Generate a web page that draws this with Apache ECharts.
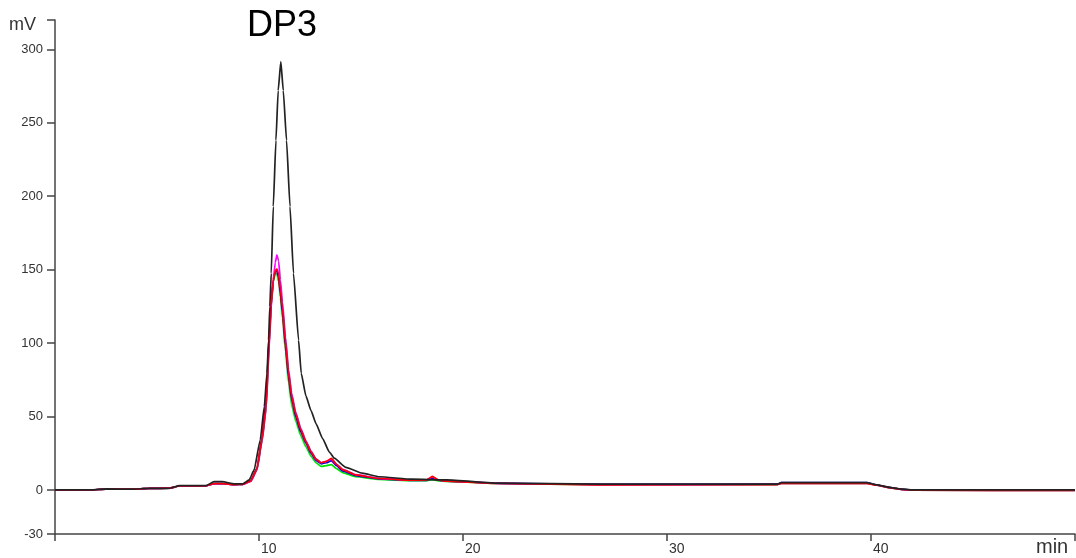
<!DOCTYPE html>
<html>
<head>
<meta charset="utf-8">
<script src="https://cdn.jsdelivr.net/npm/echarts@6/dist/echarts.min.js"></script>
<style>
html,body{margin:0;padding:0;background:#fff;}
#chart{width:1076px;height:558px;}
</style>
</head>
<body>
<div id="chart"></div>
<script>
// ---- data ----
const chartTitle = 'DP3';
const yUnit = 'mV';
const xUnit = 'min';
const yTickValues = [-30, 0, 50, 100, 150, 200, 250, 300, 320];
const yLabelValues = [-30, 0, 50, 100, 150, 200, 250, 300];
const xTickValues = [0, 10, 20, 30, 40, 50];
const xLabelValues = [10, 20, 30, 40];

// black trace
const timeBlack = [0, 1.75, 2.5, 3.8, 4.6, 5.6, 6.1, 7.4, 7.8, 8.2, 8.8, 9.2, 9.52, 9.76, 10.06, 10.26, 10.39, 10.47, 10.53, 10.6, 10.7, 10.83, 10.94, 11.07, 11.19, 11.35, 11.52, 11.69, 11.94, 12.07, 12.3, 12.55, 12.8, 13.12, 13.44, 13.69, 14.26, 15.06, 15.9, 17.5, 19.2, 21.8, 26.7, 35.4, 35.6, 39.8, 40.3, 40.9, 41.4, 42.05, 50];
const valuesBlack = [0, 0, 0.7, 0.5, 1.1, 1.1, 2.9, 2.9, 5.7, 5.7, 4.1, 4.1, 6.8, 13.6, 34, 56.7, 79.4, 102, 124.8, 147.5, 193, 238, 272, 291.6, 272, 238, 193, 147.5, 102, 79.4, 64, 54, 45, 35, 26, 21.6, 15.4, 11.4, 9, 7.3, 6.8, 4.6, 3.9, 3.9, 5, 5, 3.4, 1.8, 0.7, 0, 0];

// coloured traces share one time grid
const timeColor = [0, 1.75, 2.5, 3.8, 4.6, 5.6, 6.1, 7.4, 7.8, 8.2, 8.8, 9.2, 9.6, 9.9, 10.15, 10.35, 10.5, 10.6, 10.7, 10.8, 10.88, 10.96, 11.05, 11.15, 11.3, 11.45, 11.6, 11.8, 12.05, 12.3, 12.55, 12.8, 13.05, 13.3, 13.55, 13.8, 14.1, 14.75, 15.9, 17.5, 18.2, 18.5, 18.8, 19.2, 21.8, 26.7, 35.4, 35.6, 39.8, 40.3, 40.9, 41.4, 42.05, 50];
const valuesGreen = [0, 0, 0.6, 0.5, 1.0, 1.2, 2.7, 2.8, 4.2, 4.3, 3.6, 3.8, 6.5, 15, 36, 62, 106, 128, 142, 148, 147, 142, 131, 117, 94, 73, 58, 47, 37, 29.5, 23, 18.5, 16, 16.5, 17.2, 14.5, 11.8, 9, 7.2, 6.3, 6.3, 7.0, 6.2, 5.8, 4.4, 3.6, 3.6, 4.5, 4.5, 3.2, 1.6, 0.5, -0.2, -0.3];
const valuesBlue = [0, 0, 0.6, 0.5, 1.0, 1.2, 2.7, 2.8, 4.3, 4.4, 3.6, 3.8, 6.2, 14.5, 35, 60, 104, 128, 143, 149.5, 149, 145, 134, 121, 98, 77, 62, 50, 39.5, 32, 25, 20, 17.8, 18.5, 20, 16.5, 13, 9.8, 7.6, 6.5, 6.5, 8.0, 6.6, 6.0, 4.5, 3.8, 3.9, 5.0, 5.0, 3.3, 1.7, 0.6, -0.1, -0.2];
const valuesMagenta = [0, 0, 0.6, 0.5, 1.0, 1.2, 2.7, 2.8, 4.3, 4.4, 3.6, 3.8, 5.8, 13.5, 33, 55, 97, 124, 143, 155, 160, 156, 143, 128, 104, 82, 66, 53, 42, 33.5, 26.5, 21, 18.5, 19.5, 21, 17.5, 14, 10.4, 7.9, 6.7, 6.7, 8.8, 6.8, 6.1, 4.5, 3.6, 3.7, 4.5, 4.5, 3.2, 1.6, 0.5, -0.2, -0.3];
const valuesRed = [0, 0, 0.6, 0.5, 1.0, 1.2, 2.7, 2.8, 4.3, 4.4, 3.6, 3.8, 6.0, 14, 34, 56, 100, 126, 142, 149, 150.5, 147, 136, 124, 101, 80, 64, 52, 41, 33, 26, 21, 18.5, 19.5, 21.5, 17.5, 13.8, 10.2, 7.8, 6.6, 6.6, 9.2, 6.8, 6.0, 4.4, 3.5, 3.6, 4.4, 4.4, 3.2, 1.6, 0.5, -0.2, -0.3];

const seriesDefs = [
  {name: 'green', color: '#00e000', time: timeColor, values: valuesGreen},
  {name: 'blue', color: '#0000d0', time: timeColor, values: valuesBlue},
  {name: 'magenta', color: '#ff00ff', time: timeColor, values: valuesMagenta},
  {name: 'red', color: '#ff0000', time: timeColor, values: valuesRed},
  {name: 'black', color: '#222222', time: timeBlack, values: valuesBlack}
];

const chart = echarts.init(document.getElementById('chart'), null, {renderer: 'canvas'});
const font = 'Liberation Sans, Arial, sans-serif';
const axisColor = '#444';

chart.setOption({
  animation: false,
  backgroundColor: '#fff',
  title: [
    {text: chartTitle, left: 247, top: 8, padding: 0,
     textStyle: {fontSize: 36, fontWeight: 'normal', color: '#000', fontFamily: font}},
    {text: yUnit, left: 9, top: 16, padding: 0,
     textStyle: {fontSize: 18, fontWeight: 'normal', color: '#333', fontFamily: font}},
    {text: xUnit, left: 1036, top: 537, padding: 0,
     textStyle: {fontSize: 20, fontWeight: 'normal', color: '#333', fontFamily: font}}
  ],
  grid: {left: 55, right: 1, top: 20, bottom: 24, containLabel: false},
  xAxis: {
    type: 'value', min: 0, max: 50,
    axisLine: {onZero: false, lineStyle: {color: axisColor, width: 1.5}},
    axisTick: {show: true, length: 7, inside: false, customValues: xTickValues, lineStyle: {color: axisColor, width: 1.5}},
    axisLabel: {customValues: xLabelValues, align: 'left', margin: 8, padding: [0, 0, 0, 2],
                color: '#333', fontSize: 14, fontFamily: font},
    splitLine: {show: false}
  },
  yAxis: {
    type: 'value', min: -30, max: 320,
    axisLine: {show: true, lineStyle: {color: axisColor, width: 1.5}},
    axisTick: {show: true, length: 8, customValues: yTickValues, lineStyle: {color: axisColor, width: 1.5}},
    axisLabel: {customValues: yLabelValues, margin: 12, color: '#333', fontSize: 13, fontFamily: font},
    splitLine: {show: false}
  },
  series: seriesDefs.map(s => ({
    name: s.name,
    type: 'line',
    showSymbol: false,
    smooth: 0.15,
    smoothMonotone: 'x',
    clip: false,
    lineStyle: {color: s.color, width: 1.7},
    data: s.time.map((t, i) => [t, s.values[i]])
  }))
});
</script>
</body>
</html>
